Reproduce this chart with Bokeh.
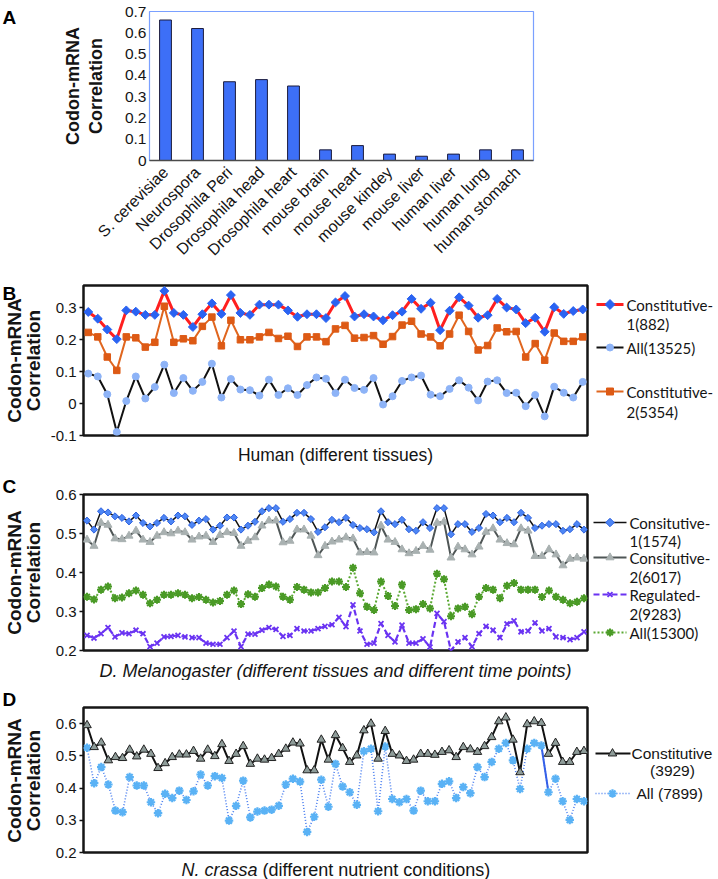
import math
from bokeh.plotting import figure
from bokeh.layouts import column, row
from bokeh.models import Range1d, FixedTicker, Title
from bokeh.embed import file_html
from bokeh.resources import INLINE
from bokeh.core.properties import value

# ---------------- data ----------------
A_categories = ["S. cerevisiae", "Neurospora", "Drosophila Peri", "Drosophila head",
                "Drosophila heart", "mouse brain", "mouse heart", "mouse kindey",
                "mouse liver", "human liver", "human lung", "human stomach"]
A_values = [0.66, 0.62, 0.37, 0.38, 0.35, 0.05, 0.07, 0.03, 0.02, 0.03, 0.05, 0.05]
A_ticks = [0, 0.1, 0.2, 0.3, 0.4, 0.5, 0.6, 0.7]

B_constitutive1 = [0.287, 0.266, 0.232, 0.202, 0.292, 0.288, 0.278, 0.278, 0.353, 0.284,
                   0.278, 0.240, 0.280, 0.314, 0.281, 0.340, 0.284, 0.278, 0.310, 0.310,
                   0.310, 0.292, 0.272, 0.280, 0.280, 0.268, 0.317, 0.337, 0.273, 0.280,
                   0.273, 0.261, 0.277, 0.288, 0.328, 0.297, 0.316, 0.230, 0.291, 0.333,
                   0.307, 0.269, 0.277, 0.328, 0.301, 0.295, 0.252, 0.269, 0.225, 0.302,
                   0.281, 0.290, 0.295]
B_all = [0.094, 0.085, 0.029, -0.089, 0.008, 0.085, 0.016, 0.052, 0.122, 0.033,
         0.080, 0.040, 0.068, 0.125, 0.019, 0.077, 0.044, 0.042, 0.025, 0.075,
         0.027, 0.048, 0.027, 0.058, 0.082, 0.078, 0.033, 0.075, 0.049, 0.043,
         0.080, -0.003, 0.023, 0.071, 0.082, 0.088, 0.028, 0.023, 0.046, 0.073,
         0.050, 0.010, 0.069, 0.073, 0.033, 0.034, -0.008, 0.027, -0.040, 0.053,
         0.034, 0.019, 0.068]
B_constitutive2 = [0.223, 0.209, 0.146, 0.104, 0.209, 0.206, 0.177, 0.192, 0.305, 0.192,
                   0.203, 0.197, 0.242, 0.271, 0.181, 0.261, 0.200, 0.200, 0.209, 0.223,
                   0.204, 0.211, 0.179, 0.209, 0.209, 0.194, 0.234, 0.245, 0.205, 0.207,
                   0.213, 0.186, 0.210, 0.246, 0.258, 0.218, 0.209, 0.181, 0.218, 0.277,
                   0.226, 0.168, 0.182, 0.237, 0.225, 0.226, 0.146, 0.188, 0.136, 0.221,
                   0.195, 0.195, 0.209]
B_ticks = [-0.1, 0, 0.1, 0.2, 0.3]

C_consitutive1 = [0.533, 0.510, 0.557, 0.554, 0.544, 0.540, 0.531, 0.546, 0.527, 0.518,
                  0.527, 0.540, 0.531, 0.546, 0.544, 0.522, 0.533, 0.537, 0.510, 0.520,
                  0.541, 0.541, 0.510, 0.520, 0.530, 0.557, 0.565, 0.565, 0.530, 0.537,
                  0.553, 0.553, 0.537, 0.504, 0.516, 0.535, 0.529, 0.540, 0.522, 0.514,
                  0.511, 0.503, 0.557, 0.529, 0.524, 0.535, 0.511, 0.507, 0.529, 0.514,
                  0.565, 0.565, 0.498, 0.524, 0.524, 0.504, 0.514, 0.550, 0.546, 0.529,
                  0.540, 0.529, 0.553, 0.540, 0.514, 0.520, 0.524, 0.524, 0.507, 0.511,
                  0.524, 0.510]
C_consitutive2 = [0.484, 0.468, 0.527, 0.522, 0.487, 0.485, 0.494, 0.507, 0.484, 0.478,
                  0.494, 0.503, 0.500, 0.507, 0.503, 0.484, 0.492, 0.494, 0.478, 0.496,
                  0.503, 0.501, 0.468, 0.481, 0.490, 0.520, 0.533, 0.533, 0.477, 0.481,
                  0.510, 0.510, 0.494, 0.444, 0.468, 0.479, 0.484, 0.490, 0.487, 0.451,
                  0.452, 0.451, 0.520, 0.484, 0.478, 0.459, 0.449, 0.455, 0.468, 0.458,
                  0.527, 0.530, 0.438, 0.466, 0.459, 0.446, 0.466, 0.504, 0.513, 0.484,
                  0.475, 0.472, 0.513, 0.507, 0.442, 0.442, 0.459, 0.446, 0.418, 0.435,
                  0.438, 0.435]
C_regulated2 = [0.239, 0.232, 0.243, 0.259, 0.235, 0.245, 0.243, 0.252, 0.243, 0.210,
                0.219, 0.235, 0.236, 0.239, 0.235, 0.233, 0.233, 0.219, 0.216, 0.216,
                0.233, 0.250, 0.210, 0.242, 0.242, 0.252, 0.259, 0.254, 0.236, 0.239,
                0.256, 0.250, 0.250, 0.256, 0.262, 0.266, 0.285, 0.261, 0.317, 0.250,
                0.216, 0.219, 0.269, 0.239, 0.222, 0.265, 0.219, 0.219, 0.230, 0.209,
                0.295, 0.274, 0.200, 0.222, 0.233, 0.210, 0.243, 0.262, 0.252, 0.233,
                0.268, 0.276, 0.248, 0.250, 0.271, 0.250, 0.256, 0.235, 0.233, 0.228,
                0.233, 0.248]
C_all = [0.338, 0.331, 0.356, 0.364, 0.334, 0.336, 0.347, 0.354, 0.343, 0.321,
         0.330, 0.343, 0.343, 0.347, 0.343, 0.334, 0.337, 0.330, 0.323, 0.327,
         0.343, 0.354, 0.319, 0.344, 0.338, 0.360, 0.369, 0.364, 0.338, 0.330,
         0.363, 0.356, 0.349, 0.349, 0.360, 0.377, 0.377, 0.363, 0.412, 0.347,
         0.312, 0.304, 0.377, 0.340, 0.314, 0.369, 0.304, 0.306, 0.319, 0.308,
         0.397, 0.383, 0.288, 0.308, 0.312, 0.293, 0.338, 0.360, 0.356, 0.334,
         0.366, 0.373, 0.356, 0.356, 0.356, 0.337, 0.354, 0.338, 0.330, 0.321,
         0.325, 0.334]
C_ticks = [0.2, 0.3, 0.4, 0.5, 0.6]

D_constitutive = [0.595, 0.527, 0.541, 0.486, 0.496, 0.493, 0.519, 0.498, 0.519, 0.506,
                  0.462, 0.477, 0.496, 0.504, 0.504, 0.515, 0.491, 0.519, 0.499, 0.536,
                  0.484, 0.506, 0.530, 0.475, 0.491, 0.488, 0.493, 0.506, 0.522, 0.541,
                  0.538, 0.455, 0.455, 0.550, 0.488, 0.564, 0.524, 0.481, 0.501, 0.579,
                  0.600, 0.491, 0.577, 0.506, 0.501, 0.484, 0.488, 0.506, 0.506, 0.503,
                  0.512, 0.517, 0.496, 0.527, 0.520, 0.512, 0.530, 0.558, 0.607, 0.619,
                  0.550, 0.449, 0.598, 0.607, 0.602, 0.506, 0.540, 0.481, 0.481, 0.512,
                  0.515]
D_all = [0.525, 0.415, 0.465, 0.411, 0.330, 0.325, 0.434, 0.408, 0.408, 0.356,
         0.322, 0.382, 0.369, 0.392, 0.363, 0.390, 0.442, 0.408, 0.437, 0.431,
         0.299, 0.345, 0.423, 0.309, 0.327, 0.330, 0.333, 0.345, 0.411, 0.429,
         0.420, 0.264, 0.311, 0.426, 0.342, 0.475, 0.405, 0.387, 0.348, 0.514,
         0.522, 0.328, 0.529, 0.366, 0.356, 0.366, 0.330, 0.392, 0.359, 0.359,
         0.413, 0.421, 0.369, 0.403, 0.384, 0.465, 0.434, 0.481, 0.522, 0.540,
         0.486, 0.397, 0.522, 0.540, 0.532, 0.387, 0.429, 0.359, 0.301, 0.366,
         0.359]
D_ticks = [0.2, 0.3, 0.4, 0.5, 0.6]

# ---------------- style helpers ----------------
AX_FONT = "Liberation Sans"
LEG_FONT = "Lato"
TXT = "#141414"


def base_fig(w, h, xr, yr, left, right, top, bottom, x_axis=True):
    p = figure(width=w, height=h, x_range=xr, y_range=yr, output_backend="svg",
               toolbar_location=None, title_location=None, frame_align=False,
               x_axis_location="below" if x_axis else None,
               min_border_left=left, min_border_right=right,
               min_border_top=top, min_border_bottom=bottom)
    p.xgrid.visible = False
    p.ygrid.visible = False
    return p


def style_y(p, ticks, size="15px", tick_out=4):
    ax = p.yaxis[0]
    ax.ticker = FixedTicker(ticks=ticks)
    ax.major_label_overrides = {t: ("0" if t == 0 else f"{t:g}") for t in ticks}
    ax.major_label_text_font = AX_FONT
    ax.major_label_text_font_size = size
    ax.major_label_text_color = TXT
    ax.minor_tick_line_color = None
    ax.major_tick_in = 0
    ax.major_tick_out = tick_out
    ax.major_tick_line_color = "#111111" if tick_out else None
    ax.major_tick_line_width = 1.5
    ax.major_label_standoff = 3
    ax.axis_line_color = None


def pix_fig(w, h):
    """A blank figure whose data units are pixels (used for texts and legends)."""
    f = figure(width=w, height=h, x_range=Range1d(0, w), y_range=Range1d(0, h),
               x_axis_location=None, y_axis_location=None, toolbar_location=None,
               output_backend="svg", title_location=None, min_border=0,
               frame_align=False, outline_line_color=None)
    f.xgrid.visible = False
    f.ygrid.visible = False
    return f


def ptext(f, x, top, text, size="15px", font=AX_FONT, style="normal", align="left",
          angle=0.0):
    f.text(x=[x], y=[f.height - top], text=[text], text_font=value(font),
           text_font_size=size, text_font_style=style, text_baseline="middle",
           text_align=align, text_color=TXT, angle=angle)


def letter(f, top, ch):
    f.text(x=[2], y=[f.height - top], text=[ch], text_font=value(AX_FONT),
           text_font_size="19px", text_font_style="bold", text_baseline="top",
           text_align="left", text_color="#000000")


def y_titles(f, x1, x2, center, size="19px"):
    ptext(f, x1, center, "Codon-mRNA", size=size, style="bold", align="center",
          angle=math.pi / 2)
    ptext(f, x2, center, "Correlation", size=size, style="bold", align="center",
          angle=math.pi / 2)


def pline(f, x0, x1, top, **kw):
    f.line([x0, x1], [f.height - top, f.height - top], **kw)


def pmark(f, x, top, **kw):
    f.scatter([x], [f.height - top], **kw)


# ---------------- Panel A ----------------
A_x = list(range(1, len(A_values) + 1))
pA = base_fig(658, 280, Range1d(0.5, len(A_values) + 0.5), Range1d(0, 0.7),
              left=87, right=185, top=11, bottom=120)
pA.vbar(x=A_x, top=A_values, width=0.37, fill_color="#3d6ff7", line_color="#1c1c3c",
        line_width=1)
pA.outline_line_color = "#7aa0ff"
pA.outline_line_width = 1.2
style_y(pA, A_ticks, size="15.5px", tick_out=0)
ya = pA.yaxis[0]
ya.axis_label = "Correlation"
ya.axis_label_text_font = AX_FONT
ya.axis_label_text_font_size = "18px"
ya.axis_label_text_font_style = "bold"
ya.axis_label_text_color = TXT
ya.axis_label_standoff = 16
pA.add_layout(Title(text="Codon-mRNA", align="center", text_font=AX_FONT,
                    text_font_size="18px", text_font_style="bold", text_color=TXT,
                    standoff=0), "left")
xa = pA.xaxis[0]
xa.ticker = FixedTicker(ticks=A_x)
xa.major_label_overrides = {i: c for i, c in zip(A_x, A_categories)}
xa.major_label_orientation = math.pi / 4
xa.major_label_text_font = AX_FONT
xa.major_label_text_font_size = "16px"
xa.major_label_text_color = TXT
xa.major_tick_line_color = None
xa.minor_tick_line_color = None
xa.axis_line_color = "#4a4a4a"
xa.axis_line_width = 1.5
xa.major_label_standoff = 3

leftA = pix_fig(60, 280)
letter(leftA, 6, "A")

# ---------------- Panel B ----------------
B_x = list(range(1, len(B_all) + 1))
pB = base_fig(547, 164, Range1d(0.5, len(B_all) + 0.5), Range1d(-0.1, 0.37),
              left=38, right=5, top=5, bottom=9, x_axis=False)
pB.outline_line_color = "#161616"
pB.outline_line_width = 2.5
style_y(pB, B_ticks)
pB.line(B_x, B_all, line_color="#111111", line_width=2)
pB.scatter(B_x, B_all, marker="circle", size=7, fill_color="#8db3f7", line_color="#8db3f7")
pB.line(B_x, B_constitutive2, line_color="#e0661f", line_width=2)
pB.scatter(B_x, B_constitutive2, marker="square", size=6.5, fill_color="#dd5a15",
           line_color="#dd5a15")
pB.line(B_x, B_constitutive1, line_color="#ff1f1f", line_width=3)
pB.scatter(B_x, B_constitutive1, marker="square", angle=math.pi / 4, size=6.3,
           fill_color="#2a63f2", line_color="#2a63f2")

leftB = pix_fig(45, 164)
letter(leftB, 2, "B")
y_titles(leftB, 14, 33, 80)

legB = pix_fig(126, 164)
pline(legB, 4, 31, 24, line_color="#ff1f1f", line_width=3)
pmark(legB, 17.5, 24, marker="square", angle=math.pi / 4, size=7, fill_color="#2a63f2",
      line_color="#2a63f2")
ptext(legB, 34, 24, "Constitutive-", font=LEG_FONT)
ptext(legB, 34, 43, "1(882)", font=LEG_FONT)
pline(legB, 4, 31, 67, line_color="#111111", line_width=2)
pmark(legB, 17.5, 67, marker="circle", size=7, fill_color="#8db3f7", line_color="#8db3f7")
ptext(legB, 34, 67, "All(13525)", font=LEG_FONT)
pline(legB, 4, 31, 111, line_color="#e0661f", line_width=2)
pmark(legB, 17.5, 111, marker="square", size=7, fill_color="#dd5a15", line_color="#dd5a15")
ptext(legB, 34, 111, "Constitutive-", font=LEG_FONT)
ptext(legB, 34, 131, "2(5354)", font=LEG_FONT)

capB = pix_fig(718, 26)
ptext(capB, 335, 10, "Human (different tissues)", size="17.5px", align="center")

# ---------------- Panel C ----------------
C_x = list(range(1, len(C_all) + 1))
pC = base_fig(547, 189, Range1d(0.5, len(C_all) + 0.5), Range1d(0.2, 0.6),
              left=38, right=5, top=24, bottom=9, x_axis=False)
pC.outline_line_color = "#161616"
pC.outline_line_width = 2.5
style_y(pC, C_ticks)
pC.line(C_x, C_all, line_color="#5aa832", line_width=2, line_dash="2 2")
pC.scatter(C_x, C_all, marker="asterisk", size=8, line_color="#4a9a26", line_width=2)
pC.line(C_x, C_regulated2, line_color="#6a33f2", line_width=2.2, line_dash="6 3")
pC.scatter(C_x, C_regulated2, marker="x", size=7, line_color="#6a33f2", line_width=1.8)
pC.line(C_x, C_consitutive2, line_color="#4f5656", line_width=2)
pC.scatter(C_x, C_consitutive2, marker="triangle", size=8, fill_color="#a9b1b1",
           line_color="#a9b1b1")
pC.line(C_x, C_consitutive1, line_color="#111111", line_width=1.5)
pC.scatter(C_x, C_consitutive1, marker="square", angle=math.pi / 4, size=5,
           fill_color="#4d86f5", line_color="#2f63e0")

leftC = pix_fig(45, 189)
letter(leftC, 5, "C")
y_titles(leftC, 14, 33, 102)

legC = pix_fig(126, 189)
pline(legC, 1, 34, 52, line_color="#111111", line_width=1.5)
pmark(legC, 17.5, 52, marker="square", angle=math.pi / 4, size=6, fill_color="#4d86f5",
      line_color="#2f63e0")
ptext(legC, 37, 52, "Consitutive-", font=LEG_FONT)
ptext(legC, 37, 70, "1(1574)", font=LEG_FONT)
pline(legC, 1, 34, 87, line_color="#4f5656", line_width=2)
pmark(legC, 17.5, 87, marker="triangle", size=8, fill_color="#a9b1b1", line_color="#a9b1b1")
ptext(legC, 37, 87, "Consitutive-", font=LEG_FONT)
ptext(legC, 37, 106, "2(6017)", font=LEG_FONT)
pline(legC, 1, 34, 124, line_color="#6a33f2", line_width=2.2, line_dash="6 3")
pmark(legC, 17.5, 124, marker="x", size=7, line_color="#6a33f2", line_width=1.8)
ptext(legC, 37, 124, "Regulated-", font=LEG_FONT)
ptext(legC, 37, 143, "2(9283)", font=LEG_FONT)
pline(legC, 1, 34, 162, line_color="#5aa832", line_width=2, line_dash="2 2")
pmark(legC, 17.5, 162, marker="asterisk", size=8, line_color="#4a9a26", line_width=2)
ptext(legC, 37, 162, "All(15300)", font=LEG_FONT)

capC = pix_fig(718, 21)
ptext(capC, 335, 11, "D. Melanogaster (different tissues and different time points)",
      size="18px", style="italic", align="center")

# ---------------- Panel D ----------------
D_x = list(range(1, len(D_all) + 1))
pD = base_fig(547, 180, Range1d(0.5, len(D_all) + 0.5), Range1d(0.2, 0.65),
              left=38, right=5, top=27, bottom=8, x_axis=False)
pD.outline_line_color = "#161616"
pD.outline_line_width = 2.5
style_y(pD, D_ticks)
pD.line(D_x, D_all, line_color="#4a7ff0", line_width=1.6, line_dash="1 2")
pD.line(D_x[64:66], D_all[64:66], line_color="#3560e8", line_width=2)
pD.scatter(D_x, D_all, marker="asterisk", size=8.5, line_color="#5ab2f5", line_width=2.2)
pD.line(D_x, D_constitutive, line_color="#111111", line_width=2)
pD.scatter(D_x, D_constitutive, marker="triangle", size=8.5, fill_color="#8e9c99",
           line_color="#222222", line_width=1)

leftD = pix_fig(45, 180)
letter(leftD, 8, "D")
y_titles(leftD, 14, 33, 100)

legD = pix_fig(126, 180)
pline(legD, 3, 38, 73, line_color="#111111", line_width=2)
pmark(legD, 20, 73, marker="triangle", size=8.5, fill_color="#8e9c99",
      line_color="#222222", line_width=1)
ptext(legD, 39, 73, "Constitutive", size="15.5px")
ptext(legD, 80, 90, "(3929)", size="15.5px", align="center")
pline(legD, 3, 38, 113, line_color="#4a7ff0", line_width=1.6, line_dash="1 2")
pmark(legD, 20, 113, marker="asterisk", size=8.5, line_color="#5ab2f5", line_width=2.2)
ptext(legD, 44, 113, "All (7899)", size="15.5px")

capD = pix_fig(718, 19)
ptext(capD, 257, 9, "N. crassa", size="18px", style="italic", align="right")
ptext(capD, 262, 9, "(different nutrient conditions)", size="18px", align="left")

layout = column(
    row(leftA, pA),
    row(leftB, pB, legB), capB,
    row(leftC, pC, legC), capC,
    row(leftD, pD, legD), capD,
)

with open("out.html", "w") as f:
    f.write(file_html(layout, INLINE))
